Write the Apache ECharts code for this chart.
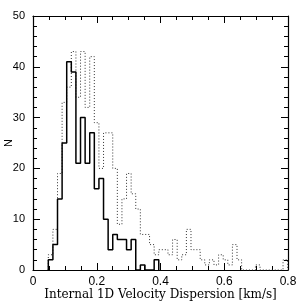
<!DOCTYPE html>
<html><head><meta charset="utf-8">
<script src="https://cdn.jsdelivr.net/npm/echarts@6/dist/echarts.min.js"></script>
<style>html,body{margin:0;padding:0;background:#fff}#c{width:304px;height:304px}</style>
</head><body><div id="c"></div>
<script>
// Histogram bins: first bin edge and bin width (km/s)
var binStart = 0.048;
var binWidth = 0.01444;
// Solid histogram counts per bin
var solidCounts = [2,5,14,25,41,39,21,30,21,27,16,18,10,4,7,6,6,4,6,0,1,0,0,2];
// Dotted histogram counts per bin
var dottedCounts = [3,8,19,33,36,43,34,43,32,42,29,20,27,27,20,9,14,19,15,12,7,7,5,3,4,4,3,6,2,3,8,4,4,2,1,2,1,3,2,1,5,2,0,0,0,1,0,0,0,0,0,2];
var xTicks = [0,0.2,0.4,0.6,0.8];
var yTicks = [0,10,20,30,40,50];

function stepLine(counts){
  var pts = [[binStart,0]];
  for (var i=0;i<counts.length;i++){
    var a = binStart + i*binWidth, b = a + binWidth;
    pts.push([a,counts[i]]); pts.push([b,counts[i]]);
  }
  pts.push([binStart+counts.length*binWidth,0]);
  return pts;
}

var chart = echarts.init(document.getElementById('c'), null, {renderer:'canvas'});
var font = 'Liberation Sans';
function xa(pos, show){
  return {type:'value', position:pos, min:xTicks[0], max:xTicks[xTicks.length-1], interval:0.2,
    axisLine:{show:true,onZero:false,lineStyle:{color:'#000',width:1.2}},
    axisTick:{show:true,inside:true,length:7,lineStyle:{color:'#000',width:1}},
    minorTick:{show:true,splitNumber:4,length:4,lineStyle:{color:'#000',width:1}},
    splitLine:{show:false},
    axisLabel:{show:show,color:'#000',fontFamily:font,fontSize:12,margin:6,
      formatter:function(v){return v===0?'0':v.toFixed(1);}},
    name: show?'Internal 1D Velocity Dispersion [km/s]':'', nameLocation:'middle', nameGap:25,
    nameMoveOverlap:false,
    nameTextStyle:{color:'#000',fontFamily:'DejaVu Serif',fontSize:12,verticalAlign:'middle'}
  };
}
function ya(pos, show){
  return {type:'value', position:pos, min:yTicks[0], max:yTicks[yTicks.length-1], interval:10,
    axisLine:{show:true,onZero:false,lineStyle:{color:'#000',width:1.2}},
    axisTick:{show:true,inside:true,length:7,lineStyle:{color:'#000',width:1}},
    minorTick:{show:true,splitNumber:5,length:4,lineStyle:{color:'#000',width:1}},
    splitLine:{show:false},
    axisLabel:{show:show,color:'#000',fontFamily:font,fontSize:11,margin:8},
    name: show?'N':'', nameLocation:'middle', nameGap:24, nameRotate:90,
    nameMoveOverlap:false,
    nameTextStyle:{color:'#000',fontFamily:font,fontSize:11,verticalAlign:'middle'}
  };
}
chart.setOption({
  animation:false,
  backgroundColor:'#fff',
  grid:{left:33,right:16,top:16,bottom:34,containLabel:false,outerBoundsMode:'none'},
  xAxis:[xa('bottom',true), xa('top',false)],
  yAxis:[ya('left',true), ya('right',false)],
  series:[
    {type:'line', data:stepLine(dottedCounts), showSymbol:false, symbol:'none',
     lineStyle:{color:'#333',width:1,type:[1,2]}, z:2},
    {type:'line', data:stepLine(solidCounts), showSymbol:false, symbol:'none',
     lineStyle:{color:'#000',width:1.5}, z:3}
  ]
});
</script></body></html>
